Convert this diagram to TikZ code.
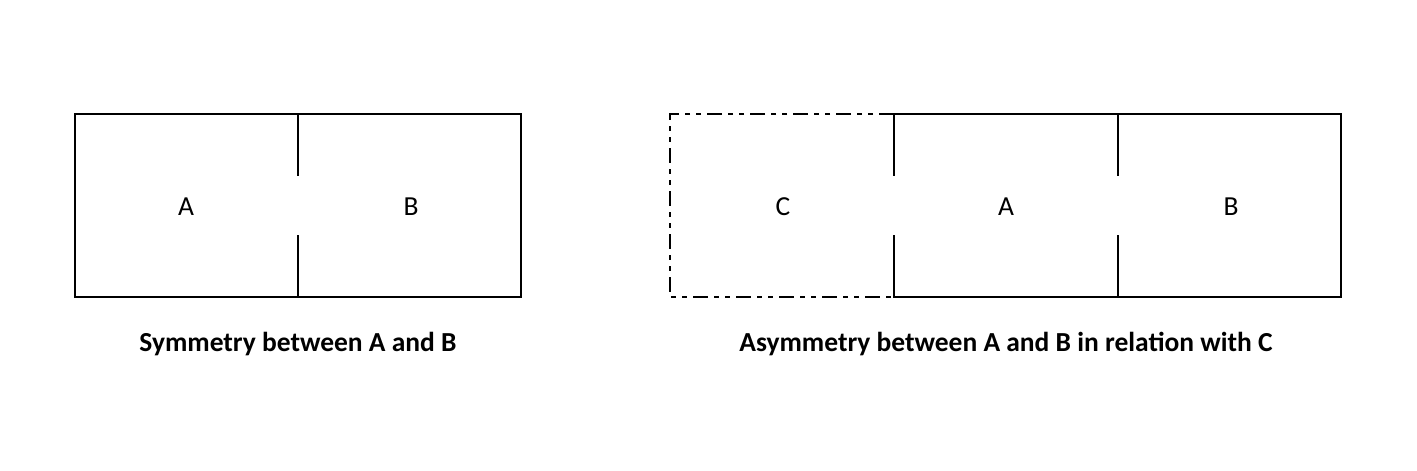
\documentclass[tikz,border=0pt]{standalone}
\usepackage{fontspec}
\setmainfont{Carlito}
\begin{document}
\begin{tikzpicture}[x=1pt,y=-1pt,
  wall/.style={line width=2pt, line cap=rect},
  dashwall/.style={line width=2pt, dash pattern=on 15pt off 6pt on 5pt off 6pt on 5pt off 6pt},
  roomlabel/.style={font=\fontsize{27.5}{32}\selectfont, inner sep=0pt},
  caption/.style={font=\bfseries\fontsize{27.5}{32}\selectfont, inner sep=0pt}]
\useasboundingbox (0,0) rectangle (1417,471);
% left diagram
\coordinate (L1) at (75,114);
\coordinate (L2) at (521,297);
\coordinate (Lmt) at (298,114);
\coordinate (Lmtb) at (298,175);
\coordinate (Lmb) at (298,297);
\coordinate (Lmbt) at (298,236);
\draw[wall] (L1) rectangle (L2);
\draw[wall] (Lmt) -- (Lmtb);
\draw[wall] (Lmb) -- (Lmbt);
\node[roomlabel] (la) at (186,207) {A};
\node[roomlabel] (lb) at (411,207) {B};
\node[caption] (lcap) at (298,344) {Symmetry between A and B};
% right diagram
\coordinate (C1) at (670,114);
\coordinate (C2) at (894,297);
\coordinate (R1) at (894,114);
\coordinate (R2) at (1341,297);
\coordinate (R1b) at (894,175);
\coordinate (R2t) at (894,236);
\coordinate (Rm1) at (1118,114);
\coordinate (Rm1b) at (1118,175);
\coordinate (Rm2) at (1118,297);
\coordinate (Rm2t) at (1118,236);
\draw[dashwall] (R1) -- (C1) -- (670,297) -- (C2);
\draw[wall] (R1) -- (1341,114) -- (R2) -- (C2);
\draw[wall] (R1) -- (R1b);
\draw[wall] (C2) -- (R2t);
\draw[wall] (Rm1) -- (Rm1b);
\draw[wall] (Rm2) -- (Rm2t);
\node[roomlabel] (rc) at (783,207) {C};
\node[roomlabel] (ra) at (1006,207) {A};
\node[roomlabel] (rb) at (1231,207) {B};
\node[caption] (rcap) at (1006,344) {Asymmetry between A and B in relation with C};
\end{tikzpicture}
\end{document}
